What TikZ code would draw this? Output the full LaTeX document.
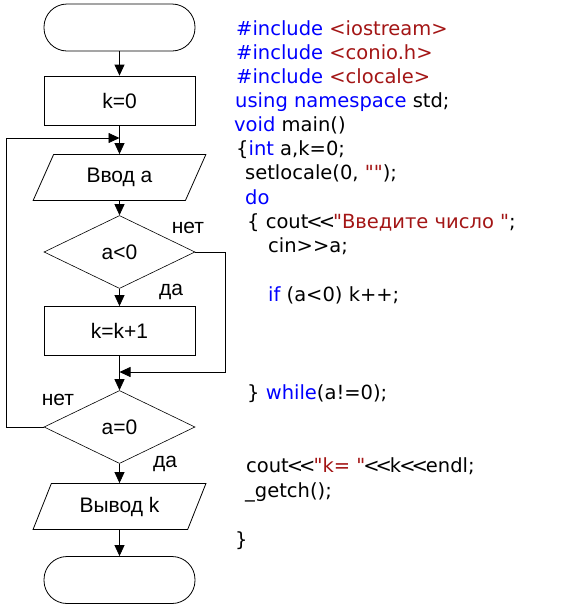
\documentclass[tikz,border=0pt]{standalone}
\usepackage{fontspec}
\setmainfont{Liberation Sans}
\newfontfamily\codefont{DejaVu Sans}
\usetikzlibrary{shapes.geometric,arrows.meta}
\definecolor{kwblue}{RGB}{0,0,255}
\definecolor{strred}{RGB}{163,21,21}
\newcommand{\kwd}[1]{\textcolor{kwblue}{#1}}
\newcommand{\strg}[1]{\textcolor{strred}{#1}}
\newcommand{\shl}{\kern-2pt<\kern-4pt<\kern-2pt}
\begin{document}
\begin{tikzpicture}[x=1pt,y=-1pt,
        every node/.style={font=\fontsize{21}{24}\selectfont},
        term/.style={draw,rectangle,rounded corners=23pt,minimum width=151pt,minimum height=47pt,line width=0.8pt},
        proc/.style={draw,rectangle,minimum width=151pt,minimum height=49pt,line width=0.8pt},
        io/.style={draw,trapezium,trapezium left angle=66,trapezium right angle=114,trapezium stretches=true,minimum width=173pt,minimum height=46pt,line width=0.8pt},
        cond/.style={draw,diamond,inner sep=0pt,minimum width=151pt,minimum height=73pt,line width=0.6pt},
        arr/.style={line width=0.8pt,-{Triangle[length=11pt,width=10pt]}},
        code/.style={anchor=base west,inner sep=0pt,font=\codefont\fontsize{19.5}{24}\selectfont}
      ]
      \useasboundingbox (0,0) rectangle (576,606);
      % flowchart
      \node[term] (start) at (119.5,27.5) {};
      \node[proc] (init) at (119.5,100.5) {k=0};
      \node[io] (input) at (119.5,177.5) {Ввод a};
      \node[cond] (neg) at (119.5,252) {a<0};
      \node[proc] (incr) at (119.5,331) {k=k+1};
      \node[cond] (zero) at (119.5,427) {a=0};
      \node[io] (output) at (119.5,506.5) {Вывод k};
      \node[term] (stop) at (119.5,580) {};
      \coordinate (loop) at (119.5,138);
      \coordinate (join) at (119.5,372);

      \draw[arr] (start) -- (init);
      \draw[arr] (init) -- (input);
      \draw[arr] (input) -- (neg);
      \draw[arr] (neg) -- (incr);
      \draw[arr] (incr) -- (zero);
      \draw[arr] (zero) -- (output);
      \draw[arr] (output) -- (stop);
      \draw[arr] (neg.east) -- ++(30,0) |- (join);
      \draw[arr] (zero.west) -- ++(-37,0) |- (loop);

      \node (yes1) at (171,292) {да};
      \node (no1) at (188,228) {нет};
      \node (yes2) at (165,464) {да};
      \node (no2) at (58,400) {нет};

      % program text
      \node[code] (l1) at (236,35) {\kwd{\#include} \strg{<iostream>}};
      \node[code] (l2) at (236,59) {\kwd{\#include} \strg{<conio.h>}};
      \node[code] (l3) at (236,83) {\kwd{\#include} \strg{<clocale>}};
      \node[code] (l4) at (235,107) {\kwd{using namespace} std;};
      \node[code] (l5) at (234,131) {\kwd{void} main()};
      \node[code] (l6) at (236,155) {\{\kwd{int} a,k=0;};
      \node[code] (l7) at (245,179) {setlocale(0, \strg{""});};
      \node[code] (l8) at (245,204) {\kwd{do}};
      \node[code] (l9) at (247,228) {\{ cout\shl\strg{"Введите число "};};
      \node[code] (l10) at (268,252) {cin>>a;};
      \node[code] (l11) at (268,301) {\kwd{if} (a<0) k++;};
      \node[code] (l12) at (247,399) {\} \kwd{while}(a!=0);};
      \node[code] (l13) at (246,472) {cout\shl\strg{"k= "}\shl k\shl endl;};
      \node[code] (l14) at (245,497) {\_getch();};
      \node[code] (l15) at (235,546) {\}};
    \end{tikzpicture}
\end{document}
